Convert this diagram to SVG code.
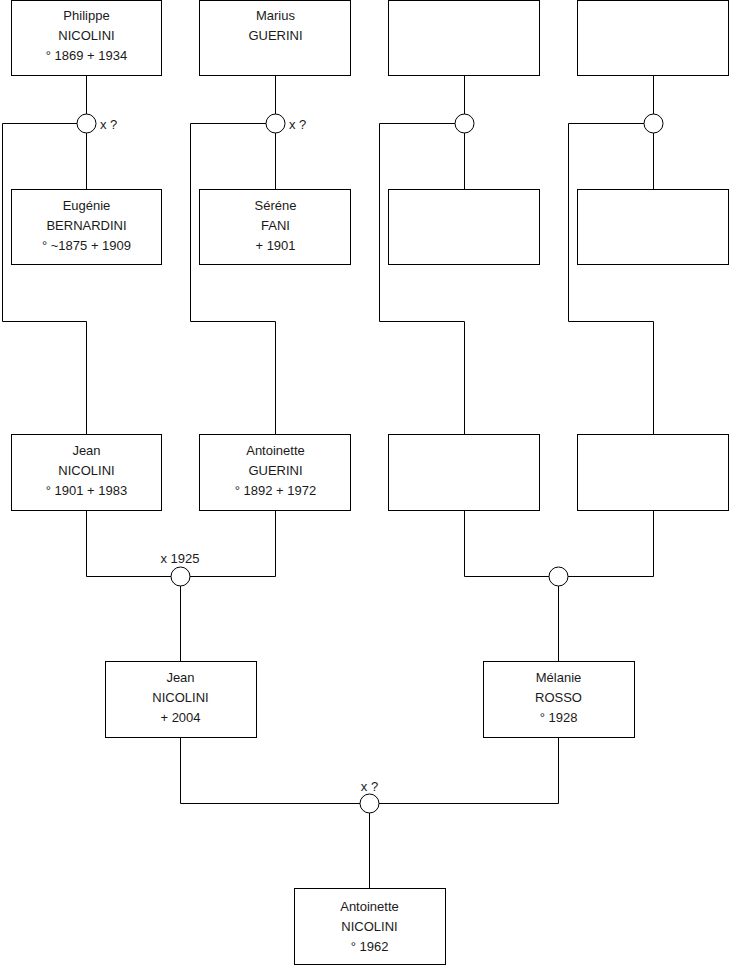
<svg xmlns="http://www.w3.org/2000/svg" width="740" height="975" viewBox="0 0 740 975">
<style>
.box{fill:#fff;stroke:#000;stroke-width:1}
.ln{fill:none;stroke:#000;stroke-width:1}
.ring{fill:#fff;stroke:#000;stroke-width:1}
text{font-family:"Liberation Sans",Arial,sans-serif;font-size:13px;fill:#1a1a1a}
.c{text-anchor:middle}
</style>
<rect width="740" height="975" fill="#fff"/>
<g id="connectors">
<path class="ln" d="M86.5 75.5V189.5M86.5 123.5H2.5V321.5H86.5V434.5"/>
<path class="ln" d="M275.5 75.5V189.5M275.5 123.5H190.5V321.5H275.5V434.5"/>
<path class="ln" d="M464.5 75.5V189.5M464.5 123.5H379.5V321.5H464.5V434.5"/>
<path class="ln" d="M653.5 75.5V189.5M653.5 123.5H568.5V321.5H653.5V434.5"/>
<path class="ln" d="M86.5 510.5V576.5H275.5V510.5M180.5 576.5V661.5"/>
<path class="ln" d="M464.5 510.5V576.5H653.5V510.5M558.5 576.5V661.5"/>
<path class="ln" d="M180.5 737.5V803.5H558.5V737.5M369.5 803.5V888.5"/>
<circle class="ring" cx="86.5" cy="123.5" r="9.5"/>
<circle class="ring" cx="275.5" cy="123.5" r="9.5"/>
<circle class="ring" cx="464.5" cy="123.5" r="9.5"/>
<circle class="ring" cx="653.5" cy="123.5" r="9.5"/>
<circle class="ring" cx="180.5" cy="576.5" r="9.5"/>
<circle class="ring" cx="558.5" cy="576.5" r="9.5"/>
<circle class="ring" cx="369.5" cy="803.5" r="9.5"/>
<text x="100" y="128.5">x ?</text>
<text x="289" y="128.5">x ?</text>
<text class="c" x="180" y="563">x 1925</text>
<text class="c" x="369.5" y="791">x ?</text>
</g>
<g id="philippe">
<rect class="box" x="11.5" y="0.5" width="150" height="75"/>
<text class="c" x="86.5" y="20">Philippe</text>
<text class="c" x="86.5" y="40">NICOLINI</text>
<text class="c" x="86.5" y="60">° 1869 + 1934</text>
</g>
<g id="marius">
<rect class="box" x="199.5" y="0.5" width="151" height="75"/>
<text class="c" x="275.5" y="20">Marius</text>
<text class="c" x="275.5" y="40">GUERINI</text>
</g>
<g id="p3"><rect class="box" x="388.5" y="0.5" width="151" height="75"/></g>
<g id="p4"><rect class="box" x="577.5" y="0.5" width="151" height="75"/></g>
<g id="eugenie">
<rect class="box" x="11.5" y="189.5" width="150" height="75"/>
<text class="c" x="86.5" y="209.5">Eugénie</text>
<text class="c" x="86.5" y="229.5">BERNARDINI</text>
<text class="c" x="86.5" y="249.5">° ~1875 + 1909</text>
</g>
<g id="serene">
<rect class="box" x="199.5" y="189.5" width="151" height="75"/>
<text class="c" x="275.5" y="209.5">Séréne</text>
<text class="c" x="275.5" y="229.5">FANI</text>
<text class="c" x="275.5" y="249.5">+ 1901</text>
</g>
<g id="p7"><rect class="box" x="388.5" y="189.5" width="151" height="75"/></g>
<g id="p8"><rect class="box" x="577.5" y="189.5" width="151" height="75"/></g>
<g id="jean1">
<rect class="box" x="11.5" y="434.5" width="150" height="76"/>
<text class="c" x="86.5" y="455">Jean</text>
<text class="c" x="86.5" y="475">NICOLINI</text>
<text class="c" x="86.5" y="495">° 1901 + 1983</text>
</g>
<g id="antoinette1">
<rect class="box" x="199.5" y="434.5" width="151" height="76"/>
<text class="c" x="275.5" y="455">Antoinette</text>
<text class="c" x="275.5" y="475">GUERINI</text>
<text class="c" x="275.5" y="495">° 1892 + 1972</text>
</g>
<g id="p11"><rect class="box" x="388.5" y="434.5" width="151" height="76"/></g>
<g id="p12"><rect class="box" x="577.5" y="434.5" width="151" height="76"/></g>
<g id="jean2">
<rect class="box" x="105.5" y="661.5" width="151" height="76"/>
<text class="c" x="180.5" y="682">Jean</text>
<text class="c" x="180.5" y="702">NICOLINI</text>
<text class="c" x="180.5" y="722">+ 2004</text>
</g>
<g id="melanie">
<rect class="box" x="483.5" y="661.5" width="151" height="76"/>
<text class="c" x="558.5" y="682">Mélanie</text>
<text class="c" x="558.5" y="702">ROSSO</text>
<text class="c" x="558.5" y="722">° 1928</text>
</g>
<g id="antoinette2">
<rect class="box" x="294.5" y="888.5" width="151" height="76"/>
<text class="c" x="369.5" y="911">Antoinette</text>
<text class="c" x="369.5" y="931">NICOLINI</text>
<text class="c" x="369.5" y="951">° 1962</text>
</g>
</svg>
